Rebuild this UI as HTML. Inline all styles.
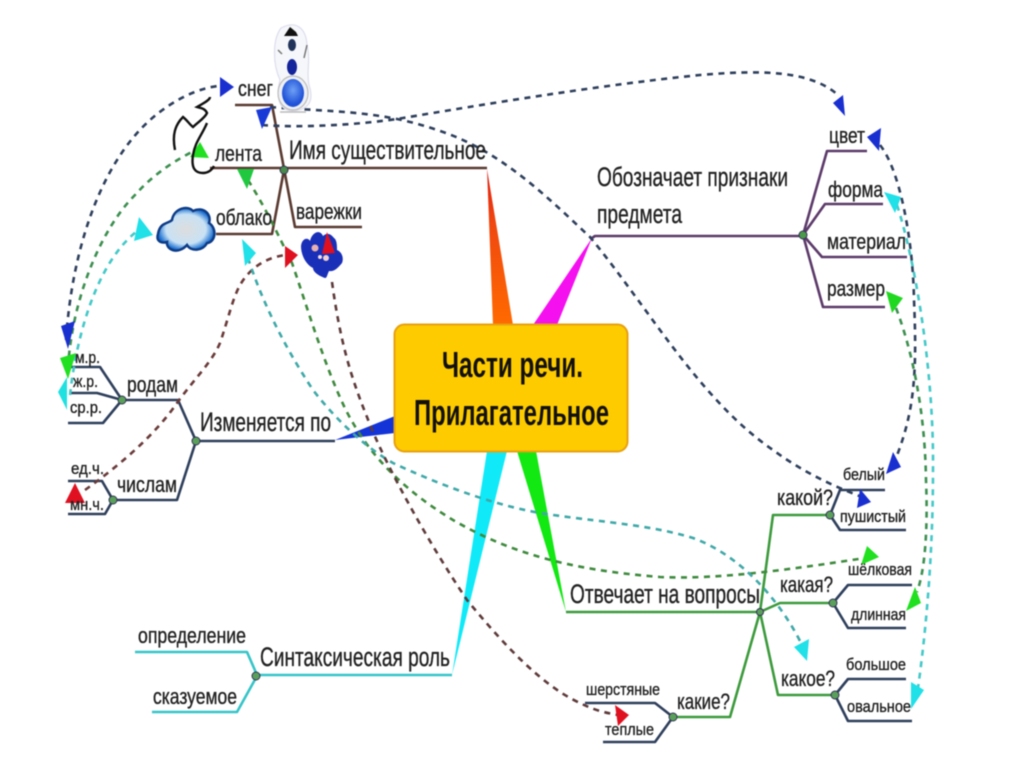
<!DOCTYPE html>
<html lang="ru"><head><meta charset="utf-8"><title>Части речи. Прилагательное</title>
<style>
html,body{margin:0;padding:0;background:#fff;width:1024px;height:767px;overflow:hidden}
svg{display:block;filter:blur(.6px)}
text{font-family:"Liberation Sans",sans-serif;fill:#222;stroke:#222;stroke-width:.35;font-size:22px}
.b{font-size:27px}.s{font-size:17px}
.d{fill:none;stroke-width:2.6;stroke-dasharray:6 5.5}
.l{fill:none;stroke-width:2.6;stroke-linejoin:round}
</style></head><body>
<svg width="1024" height="767" viewBox="0 0 1024 767" xmlns="http://www.w3.org/2000/svg">
<defs>
<linearGradient id="or" x1="0" y1="0" x2="0" y2="1"><stop offset="0" stop-color="#e01a10"/><stop offset=".35" stop-color="#f04810"/><stop offset="1" stop-color="#ff6a00"/></linearGradient>
<radialGradient id="cl"><stop offset="0" stop-color="#ddd"/><stop offset=".7" stop-color="#c8e2f5"/><stop offset="1" stop-color="#1b6fd0"/></radialGradient>
<radialGradient id="sb" cx=".5" cy=".4"><stop offset="0" stop-color="#6fa0f5"/><stop offset="1" stop-color="#1f52d8"/></radialGradient>
</defs>

<!-- wedges -->
<polygon points="487,169 493,325 513,325" fill="url(#or)"/>
<polygon points="592,238 533,325 557,325" fill="#f510f0"/>
<polygon points="335,440 395,416 395,433" fill="#1434d8"/>
<polygon points="452,675 487,451 507,451" fill="#10eaf8"/>
<polygon points="566,612 517,451 536,451" fill="#12e812"/>

<!-- brown branch -->
<g stroke="#5a3a30">
<path class="l" d="M210,168H487"/>
<path class="l" d="M235,105H272L295,227H362"/>
<path class="l" d="M216,234H272L284,170"/>
</g>
<circle cx="284" cy="170" r="4" fill="#4a8a4a" stroke="#335" stroke-width="1"/>

<!-- purple branch -->
<g stroke="#5c3a6a">
<path class="l" d="M592,238L595,236H803"/>
<path class="l" d="M803,235L827,151H867"/>
<path class="l" d="M803,235L825,204H883"/>
<path class="l" d="M803,235L822,257H907"/>
<path class="l" d="M803,235L823,307H885"/>
</g>
<circle cx="803" cy="235" r="4" fill="#4a9a4a" stroke="#335"/>

<!-- blue-grey left branch -->
<g stroke="#2e3f5c">
<path class="l" d="M335,441H196L178,400H122L100,367H70"/>
<path class="l" d="M122,400L97,393H70"/>
<path class="l" d="M122,400L103,423H68"/>
<path class="l" d="M196,441L177,500H113L102,481H68"/>
<path class="l" d="M113,500L105,514H68"/>
</g>
<circle cx="196" cy="441" r="4" fill="#5aa05a" stroke="#335"/>
<circle cx="122" cy="400" r="4" fill="#5aa05a" stroke="#335"/>
<circle cx="113" cy="500" r="4" fill="#5aa05a" stroke="#335"/>

<!-- green branch -->
<g stroke="#3c9a3c">
<path class="l" d="M566,612H760L773,515H830"/>
<path class="l" d="M760,612L780,603H833"/>
<path class="l" d="M760,612L778,695H835"/>
<path class="l" d="M760,612L730,717H673"/>
</g>
<g stroke="#2e3f5c">
<path class="l" d="M830,515L840,490H885"/>
<path class="l" d="M830,515L840,530H906"/>
<path class="l" d="M833,603L848,585H912"/>
<path class="l" d="M833,603L848,628H906"/>
<path class="l" d="M835,695L848,679H906"/>
<path class="l" d="M835,695L848,721H912"/>
<path class="l" d="M673,717L655,703H585"/>
<path class="l" d="M673,717L655,742H603"/>
</g>
<g fill="#5aa05a" stroke="#335">
<circle cx="760" cy="612" r="3.5"/><circle cx="830" cy="515" r="4"/><circle cx="833" cy="603" r="4"/><circle cx="835" cy="695" r="4"/><circle cx="673" cy="717" r="4"/>
</g>

<!-- cyan branch -->
<g stroke="#35c4c8">
<path class="l" d="M452,675H257L247,652H135"/>
<path class="l" d="M257,676L237,712H152"/>
</g>
<circle cx="256" cy="676" r="4" fill="#5aa05a" stroke="#335"/>

<!-- dashed connectors -->
<path class="d" stroke="#2e3f5c" d="M262,125C300,128 360,125 403,118C480,105 600,85 700,75C760,70 810,70 838,95"/>
<path class="d" stroke="#2e3f5c" d="M270,107C330,112 380,110 437,130C500,150 545,195 590,237C650,310 700,400 773,450C800,470 830,485 862,497"/>
<path class="d" stroke="#2e3f5c" d="M66,340C72,250 100,165 150,120C175,98 200,88 218,86"/>
<path class="d" stroke="#3c8f50" d="M68,368C72,300 100,230 135,195C150,178 170,163 192,152"/>
<path class="d" stroke="#44c8c8" d="M70,395C76,340 95,265 136,232"/>
<path class="d" stroke="#6a3a3a" d="M85,490C120,465 155,435 177,403C195,378 212,362 220,343C228,320 232,300 240,285C250,268 265,258 285,255"/>
<path class="d" stroke="#3e8a3e" d="M248,180C270,215 285,250 292,263C305,300 330,385 353,423C380,470 420,500 453,520C510,553 570,570 660,577C720,580 800,568 865,558"/>
<path class="d" stroke="#3fa8a8" d="M248,258C260,295 280,340 313,390C340,425 370,450 393,463C440,485 500,508 553,515C610,523 650,525 693,538C740,555 780,600 802,645"/>
<path class="d" stroke="#5e3a3a" d="M332,282C340,340 350,375 367,417C385,465 430,545 467,600C500,640 540,685 580,703C590,708 600,712 618,715"/>
<path class="d" stroke="#2e3f5c" d="M880,145C900,170 913,240 914,300C917,370 915,410 896,458"/>
<path class="d" stroke="#3c8f50" d="M896,308C912,350 925,410 926,480C928,530 925,570 917,592"/>
<path class="d" stroke="#44c8c8" d="M897,205C915,260 934,370 933,470C933,560 925,640 917,695"/>

<!-- arrowheads -->
<polygon points="234,87 220,77 220,97" fill="#1a2fd0"/>
<polygon points="256,110 272,107 262,129" fill="#1a3ad8"/>
<polygon points="843,95 833,103 845,116" fill="#1a2fd0"/>
<polygon points="867,137 881,128 879,151" fill="#1a2fd0"/>
<polygon points="61,326 75,321 68,349" fill="#1a2fd0"/>
<polygon points="60,358 76,353 68,379" fill="#20e020"/>
<polygon points="58,392 67,377 67,410" fill="#20e0e0"/>
<polygon points="200,142 209,158 190,157" fill="#20e020"/>
<polygon points="237,169 254,169 247,189" fill="#20c840"/>
<polygon points="139,217 153,235 134,241" fill="#20e0e8"/>
<polygon points="242,239 256,253 245,266" fill="#20e0e8"/>
<polygon points="298,255 285,246 285,268" fill="#e01020"/>
<polygon points="75,483 65,503 85,503" fill="#e01020"/>
<polygon points="893,452 901,467 886,474" fill="#1a2fd0"/>
<polygon points="860,489 871,502 857,508" fill="#1a2fd0"/>
<polygon points="879,557 867,546 861,565" fill="#20e020"/>
<polygon points="915,587 921,603 906,611" fill="#20e020"/>
<polygon points="886,291 903,298 892,313" fill="#20d820"/>
<polygon points="884,192 901,197 895,213" fill="#20e0e8"/>
<polygon points="794,647 809,639 807,661" fill="#20e0e8"/>
<polygon points="911,682 924,690 911,709" fill="#20e0e8"/>
<polygon points="629,715 615,705 618,726" fill="#e01020"/>

<!-- center box -->
<rect x="394.5" y="324.5" width="233" height="127" rx="10" fill="#fdcb00" stroke="#e8a010" stroke-width="2"/>
<text x="442" y="377" textLength="141" lengthAdjust="spacingAndGlyphs" style="font-size:36px;font-weight:bold;fill:#12100a;stroke:none">Части речи.</text>
<text x="414" y="425" textLength="195" lengthAdjust="spacingAndGlyphs" style="font-size:36px;font-weight:bold;fill:#12100a;stroke:none">Прилагательное</text>

<!-- scribble -->
<path d="M175,150C172,135 175,125 183,117C187,120 190,125 193,127C198,122 205,118 207,113C205,108 200,108 197,107C204,103 210,100 210,97M207,123C202,135 195,142 193,155C191,168 195,173 203,173C208,173 212,170 214,166" fill="none" stroke="#111" stroke-width="2.4"/>

<!-- snowman -->
<g>
<path d="M281,28C296,20 306,28 307,45C311,60 306,72 309,85C314,100 310,110 292,111C278,110 276,96 280,80C273,65 272,40 281,28Z" fill="#f6f7fa" stroke="#dde" stroke-width="1.2"/>
<ellipse cx="293" cy="93" rx="15" ry="17" fill="#eef0f4" stroke="#bbb" stroke-width="1.2"/>
<ellipse cx="293" cy="93" rx="11" ry="14" fill="url(#sb)"/>
<ellipse cx="292" cy="67" rx="5" ry="8" fill="#14249a"/>
<ellipse cx="292" cy="45" rx="4" ry="6" fill="#22335a"/>
<path d="M284,36L290,27L296,32L298,36Z" fill="#111"/>
<path d="M278,50L282,54M307,45L304,58" stroke="#777" stroke-width="1.5" fill="none"/>
<path d="M280,112H306" stroke="#bbb" stroke-width="1.5"/>
</g>

<!-- cloud -->
<path d="M158,234C160,222 168,224 172,220C174,208 188,205 193,211C203,206 212,214 209,223C217,228 216,242 207,243C203,251 191,252 187,245C178,255 166,250 167,242C160,244 156,240 158,234Z" fill="url(#cl)" stroke="#0d3b86" stroke-width="2.5"/>

<!-- mittens -->
<path d="M301,246C302,238 308,237 310,241C312,232 320,229 323,236C327,232 331,234 334,238C337,240 337,246 337,250C342,252 344,258 342,263C338,268 334,272 329,271C327,275 327,278 325,278C319,276 313,272 313,268C305,264 301,254 301,246Z" fill="#1a2fb8"/>
<circle cx="315" cy="248" r="3.5" fill="#e8b0b0"/><circle cx="326" cy="258" r="3" fill="#f0d0d0"/><circle cx="320" cy="257" r="2" fill="#f6e0e0"/>
<polygon points="327,232 322,254 335,253" fill="#e01020"/>

<!-- labels -->
<text x="238" y="96" textLength="35" lengthAdjust="spacingAndGlyphs">снег</text>
<text x="215" y="161" textLength="47" lengthAdjust="spacingAndGlyphs">лента</text>
<text class="b" x="289" y="159" textLength="197" lengthAdjust="spacingAndGlyphs">Имя существительное</text>
<text x="216" y="225" textLength="56" lengthAdjust="spacingAndGlyphs">облако</text>
<text x="296" y="219" textLength="66" lengthAdjust="spacingAndGlyphs">варежки</text>
<text class="b" x="597" y="186" textLength="191" lengthAdjust="spacingAndGlyphs">Обозначает признаки</text>
<text class="b" x="597" y="223" textLength="85" lengthAdjust="spacingAndGlyphs">предмета</text>
<text x="829" y="143" textLength="36" lengthAdjust="spacingAndGlyphs">цвет</text>
<text x="828" y="197" textLength="55" lengthAdjust="spacingAndGlyphs">форма</text>
<text x="827" y="249" textLength="79" lengthAdjust="spacingAndGlyphs">материал</text>
<text x="827" y="296" textLength="58" lengthAdjust="spacingAndGlyphs">размер</text>
<text x="127" y="392" textLength="51" lengthAdjust="spacingAndGlyphs">родам</text>
<text class="b" x="200" y="431" textLength="131" lengthAdjust="spacingAndGlyphs">Изменяется по</text>
<text class="s" x="75" y="363" textLength="25" lengthAdjust="spacingAndGlyphs">м.р.</text>
<text class="s" x="73" y="387" textLength="25" lengthAdjust="spacingAndGlyphs">ж.р.</text>
<text class="s" x="70" y="413" textLength="32" lengthAdjust="spacingAndGlyphs">ср.р.</text>
<text class="s" x="71" y="474" textLength="33" lengthAdjust="spacingAndGlyphs">ед.ч.</text>
<text class="s" x="70" y="510" textLength="34" lengthAdjust="spacingAndGlyphs">мн.ч.</text>
<text x="117" y="492" textLength="60" lengthAdjust="spacingAndGlyphs">числам</text>
<text x="777" y="505" textLength="56" lengthAdjust="spacingAndGlyphs">какой?</text>
<text class="s" x="843" y="480" textLength="42" lengthAdjust="spacingAndGlyphs">белый</text>
<text class="s" x="840" y="522" textLength="66" lengthAdjust="spacingAndGlyphs">пушистый</text>
<text class="b" x="570" y="603" textLength="190" lengthAdjust="spacingAndGlyphs">Отвечает на вопросы</text>
<text x="780" y="592" textLength="53" lengthAdjust="spacingAndGlyphs">какая?</text>
<text class="s" x="848" y="575" textLength="64" lengthAdjust="spacingAndGlyphs">шёлковая</text>
<text class="s" x="851" y="620" textLength="55" lengthAdjust="spacingAndGlyphs">длинная</text>
<text x="781" y="686" textLength="54" lengthAdjust="spacingAndGlyphs">какое?</text>
<text class="s" x="846" y="670" textLength="60" lengthAdjust="spacingAndGlyphs">большое</text>
<text class="s" x="847" y="712" textLength="64" lengthAdjust="spacingAndGlyphs">овальное</text>
<text x="677" y="709" textLength="53" lengthAdjust="spacingAndGlyphs">какие?</text>
<text class="s" x="586" y="695" textLength="74" lengthAdjust="spacingAndGlyphs">шерстяные</text>
<text class="s" x="605" y="735" textLength="49" lengthAdjust="spacingAndGlyphs">теплые</text>
<text class="b" x="260" y="666" textLength="190" lengthAdjust="spacingAndGlyphs">Синтаксическая роль</text>
<text x="138" y="643" textLength="108" lengthAdjust="spacingAndGlyphs">определение</text>
<text x="153" y="704" textLength="84" lengthAdjust="spacingAndGlyphs">сказуемое</text>
</svg>
</body></html>
